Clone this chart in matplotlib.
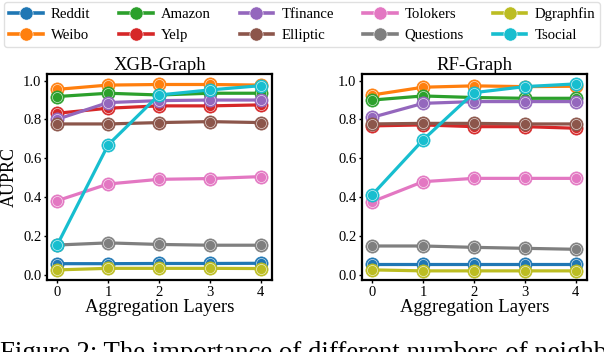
import matplotlib
matplotlib.use("Agg")
import matplotlib.pyplot as plt
from matplotlib.lines import Line2D

plt.rcParams['font.family'] = ['Liberation Serif', 'DejaVu Serif']

layers = [0, 1, 2, 3, 4]
datasets = ["Reddit", "Weibo", "Amazon", "Yelp", "Tfinance",
            "Elliptic", "Tolokers", "Questions", "Dgraphfin", "Tsocial"]
colors = ["#1f77b4", "#ff7f0e", "#2ca02c", "#d62728", "#9467bd",
          "#8c564b", "#e377c2", "#7f7f7f", "#bcbd22", "#17becf"]

xgb_reddit = [0.058, 0.058, 0.059, 0.059, 0.060]
xgb_weibo = [0.955, 0.977, 0.980, 0.980, 0.977]
xgb_amazon = [0.918, 0.935, 0.926, 0.935, 0.935]
xgb_yelp = [0.832, 0.858, 0.870, 0.870, 0.875]
xgb_tfinance = [0.801, 0.887, 0.897, 0.900, 0.900]
xgb_elliptic = [0.777, 0.777, 0.784, 0.789, 0.784]
xgb_tolokers = [0.382, 0.468, 0.492, 0.496, 0.506]
xgb_questions = [0.154, 0.165, 0.157, 0.153, 0.153]
xgb_dgraphfin = [0.026, 0.034, 0.034, 0.034, 0.033]
xgb_tsocial = [0.154, 0.669, 0.926, 0.952, 0.974]

rf_reddit = [0.058, 0.058, 0.058, 0.058, 0.058]
rf_weibo = [0.926, 0.966, 0.973, 0.969, 0.971]
rf_amazon = [0.900, 0.921, 0.913, 0.909, 0.909]
rf_yelp = [0.767, 0.772, 0.763, 0.763, 0.755]
rf_tfinance = [0.811, 0.883, 0.892, 0.892, 0.892]
rf_elliptic = [0.777, 0.780, 0.780, 0.777, 0.777]
rf_tolokers = [0.377, 0.480, 0.497, 0.497, 0.497]
rf_questions = [0.149, 0.149, 0.142, 0.137, 0.132]
rf_dgraphfin = [0.026, 0.021, 0.021, 0.021, 0.021]
rf_tsocial = [0.412, 0.695, 0.938, 0.969, 0.983]

xgb_series = [xgb_reddit, xgb_weibo, xgb_amazon, xgb_yelp, xgb_tfinance,
              xgb_elliptic, xgb_tolokers, xgb_questions, xgb_dgraphfin, xgb_tsocial]
rf_series = [rf_reddit, rf_weibo, rf_amazon, rf_yelp, rf_tfinance,
             rf_elliptic, rf_tolokers, rf_questions, rf_dgraphfin, rf_tsocial]

yticks = [0.0, 0.2, 0.4, 0.6, 0.8, 1.0]
ytick_labels = ["0.0", "0.2", "0.4", "0.6", "0.8", "1.0"]

fig = plt.figure(figsize=(6.04, 3.52), dpi=100)
W, H = 604, 352
ax1 = fig.add_axes([47 / W, 1 - 280 / H, 225 / W, 206 / H])
ax2 = fig.add_axes([362 / W, 1 - 280 / H, 225 / W, 206 / H])


def draw(ax, series, title, ylabel):
    for name, vals, c in zip(datasets, series, colors):
        ax.plot(layers, vals, color=c, lw=2.3, marker='o', ms=9.5,
                markerfacecolor=c, markeredgecolor=c, markeredgewidth=0.5,
                solid_capstyle='round')
        ax.plot(layers, vals, ls='none', marker='o', ms=7.2,
                markerfacecolor='none', markeredgecolor='white',
                markeredgewidth=0.5, alpha=0.75)
    ax.set_xlim(-0.2, 4.22)
    ax.set_ylim(-0.026, 1.034)
    ax.set_xticks(layers)
    ax.set_xticklabels([str(l) for l in layers], fontsize=10.5)
    ax.set_yticks(yticks)
    ax.set_yticklabels(ytick_labels, fontsize=10.5)
    ax.tick_params(length=2.5, width=1, pad=1.5)
    for s in ax.spines.values():
        s.set_linewidth(1.6)
    ax.set_title(title, fontsize=13.5, pad=2.5)
    ax.set_xlabel("Aggregation Layers", fontsize=13.5, labelpad=0.5)
    if ylabel:
        ax.set_ylabel(ylabel, fontsize=13, labelpad=3.5)


draw(ax1, xgb_series, "XGB-Graph", "AUPRC")
draw(ax2, rf_series, "RF-Graph", None)

handles = [Line2D([0], [0], color=c, lw=2.6, marker='o', ms=9.5,
                  markerfacecolor=c, markeredgecolor='white', markeredgewidth=0.4)
           for c in colors]
fig.legend(handles, datasets, loc='upper center', bbox_to_anchor=(0.5, 0.998),
           ncol=5, fontsize=10.6, frameon=True, handlelength=2.3,
           columnspacing=1.95, handletextpad=0.55, labelspacing=0.5,
           borderpad=0.35, borderaxespad=0.1, fancybox=True, edgecolor='#d9d9d9')

fig.text(0.0, 1 - 360 / H, "Figure 2: The importance of different numbers of neighbor",
         fontsize=19.3, ha='left', va='baseline')

fig.savefig("out.png", dpi=100)
